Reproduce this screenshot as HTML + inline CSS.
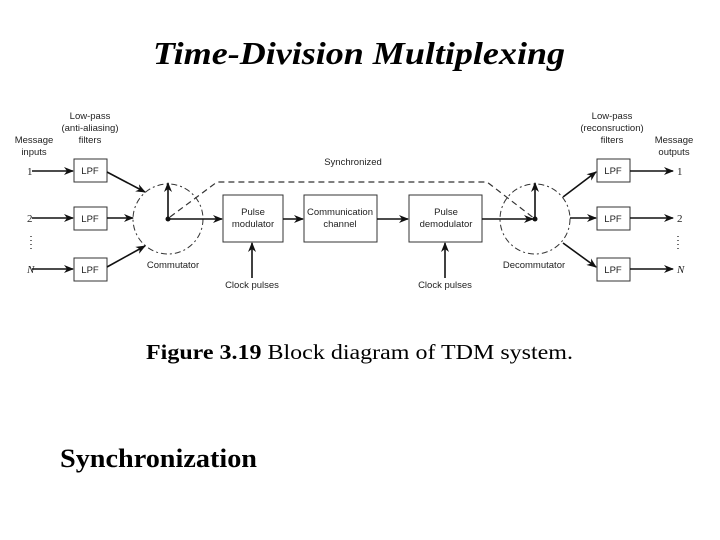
<!DOCTYPE html>
<html><head><meta charset="utf-8"><style>
body{margin:0;background:#fff;}
svg{display:block}
</style></head><body>
<svg width="720" height="540" viewBox="0 0 720 540" xmlns="http://www.w3.org/2000/svg">
<defs>
<marker id="a" markerWidth="10" markerHeight="8" refX="9" refY="4" orient="auto" markerUnits="userSpaceOnUse">
<path d="M0,0 L10,4 L0,8 L3,4 Z" fill="#111"/>
</marker>
</defs>
<text x="359" y="64" text-anchor="middle" font-family="Liberation Serif, serif" font-style="italic" font-weight="bold" font-size="32" textLength="412" lengthAdjust="spacingAndGlyphs">Time-Division Multiplexing</text>

<g font-family="Liberation Sans, sans-serif" font-size="9.5" fill="#222" text-anchor="middle">
<text x="90" y="119">Low-pass</text>
<text x="90" y="131">(anti-aliasing)</text>
<text x="90" y="143">filters</text>
<text x="34" y="143">Message</text>
<text x="34" y="155">inputs</text>
<text x="612" y="119">Low-pass</text>
<text x="612" y="131">(reconsruction)</text>
<text x="612" y="143">filters</text>
<text x="674" y="143">Message</text>
<text x="674" y="155">outputs</text>
<text x="353" y="165">Synchronized</text>
<text x="173" y="268">Commutator</text>
<text x="534" y="268">Decommutator</text>
<text x="252" y="288">Clock pulses</text>
<text x="445" y="288">Clock pulses</text>
<text x="253" y="215">Pulse</text>
<text x="253" y="227">modulator</text>
<text x="340" y="215">Communication</text>
<text x="340" y="227">channel</text>
<text x="446" y="215">Pulse</text>
<text x="446" y="227">demodulator</text>
<text x="90" y="174">LPF</text>
<text x="90" y="222">LPF</text>
<text x="90" y="273">LPF</text>
<text x="613" y="174">LPF</text>
<text x="613" y="222">LPF</text>
<text x="613" y="273">LPF</text>
</g>
<g font-family="Liberation Serif, serif" font-size="11" fill="#222">
<text x="27" y="175">1</text>
<text x="27" y="222">2</text>
<text x="27" y="273" font-style="italic">N</text>
<text x="677" y="175">1</text>
<text x="677" y="222">2</text>
<text x="677" y="273" font-style="italic">N</text>
</g>
<g stroke="#444" stroke-width="1.5" stroke-dasharray="1,3">
<line x1="31" y1="236" x2="31" y2="252"/>
<line x1="678" y1="236" x2="678" y2="252"/>
</g>
<g fill="none" stroke="#333" stroke-width="1">
<rect x="74" y="159" width="33" height="23"/>
<rect x="74" y="207" width="33" height="23"/>
<rect x="74" y="258" width="33" height="23"/>
<rect x="597" y="159" width="33" height="23"/>
<rect x="597" y="207" width="33" height="23"/>
<rect x="597" y="258" width="33" height="23"/>
<rect x="223" y="195" width="60" height="47"/>
<rect x="304" y="195" width="73" height="47"/>
<rect x="409" y="195" width="73" height="47"/>
<circle cx="168" cy="219" r="35" stroke-dasharray="6,3,2,3"/>
<circle cx="535" cy="219" r="35" stroke-dasharray="6,3,2,3"/>
<polyline points="170,217 217,182 487,182 535,219" stroke-dasharray="6,4" stroke-width="1.2"/>
</g>
<g stroke="#111" stroke-width="1.6" fill="none" marker-end="url(#a)">
<line x1="32" y1="171" x2="73" y2="171"/>
<line x1="32" y1="218" x2="73" y2="218"/>
<line x1="32" y1="269" x2="73" y2="269"/>
<line x1="107" y1="172" x2="145" y2="192"/>
<line x1="107" y1="218" x2="133" y2="218"/>
<line x1="107" y1="267" x2="145" y2="246"/>
<line x1="168" y1="219" x2="168" y2="183"/>
<line x1="168" y1="219" x2="222" y2="219"/>
<line x1="283" y1="219" x2="303" y2="219"/>
<line x1="377" y1="219" x2="408" y2="219"/>
<line x1="482" y1="219" x2="533" y2="219"/>
<line x1="535" y1="219" x2="535" y2="183"/>
<line x1="563" y1="197" x2="596" y2="172"/>
<line x1="570" y1="218" x2="596" y2="218"/>
<line x1="563" y1="243" x2="596" y2="267"/>
<line x1="630" y1="171" x2="673" y2="171"/>
<line x1="630" y1="218" x2="673" y2="218"/>
<line x1="630" y1="269" x2="673" y2="269"/>
<line x1="252" y1="278" x2="252" y2="243"/>
<line x1="445" y1="278" x2="445" y2="243"/>
</g>
<circle cx="168" cy="219" r="2.5" fill="#111"/>
<circle cx="535" cy="219" r="2.5" fill="#111"/>

<text x="146" y="359" font-family="Liberation Serif, serif" font-size="21" textLength="427" lengthAdjust="spacingAndGlyphs"><tspan font-weight="bold">Figure 3.19</tspan> Block diagram of TDM system.</text>
<text x="60" y="467" font-family="Liberation Serif, serif" font-size="26" font-weight="bold" textLength="197" lengthAdjust="spacingAndGlyphs">Synchronization</text>
</svg>
</body></html>
